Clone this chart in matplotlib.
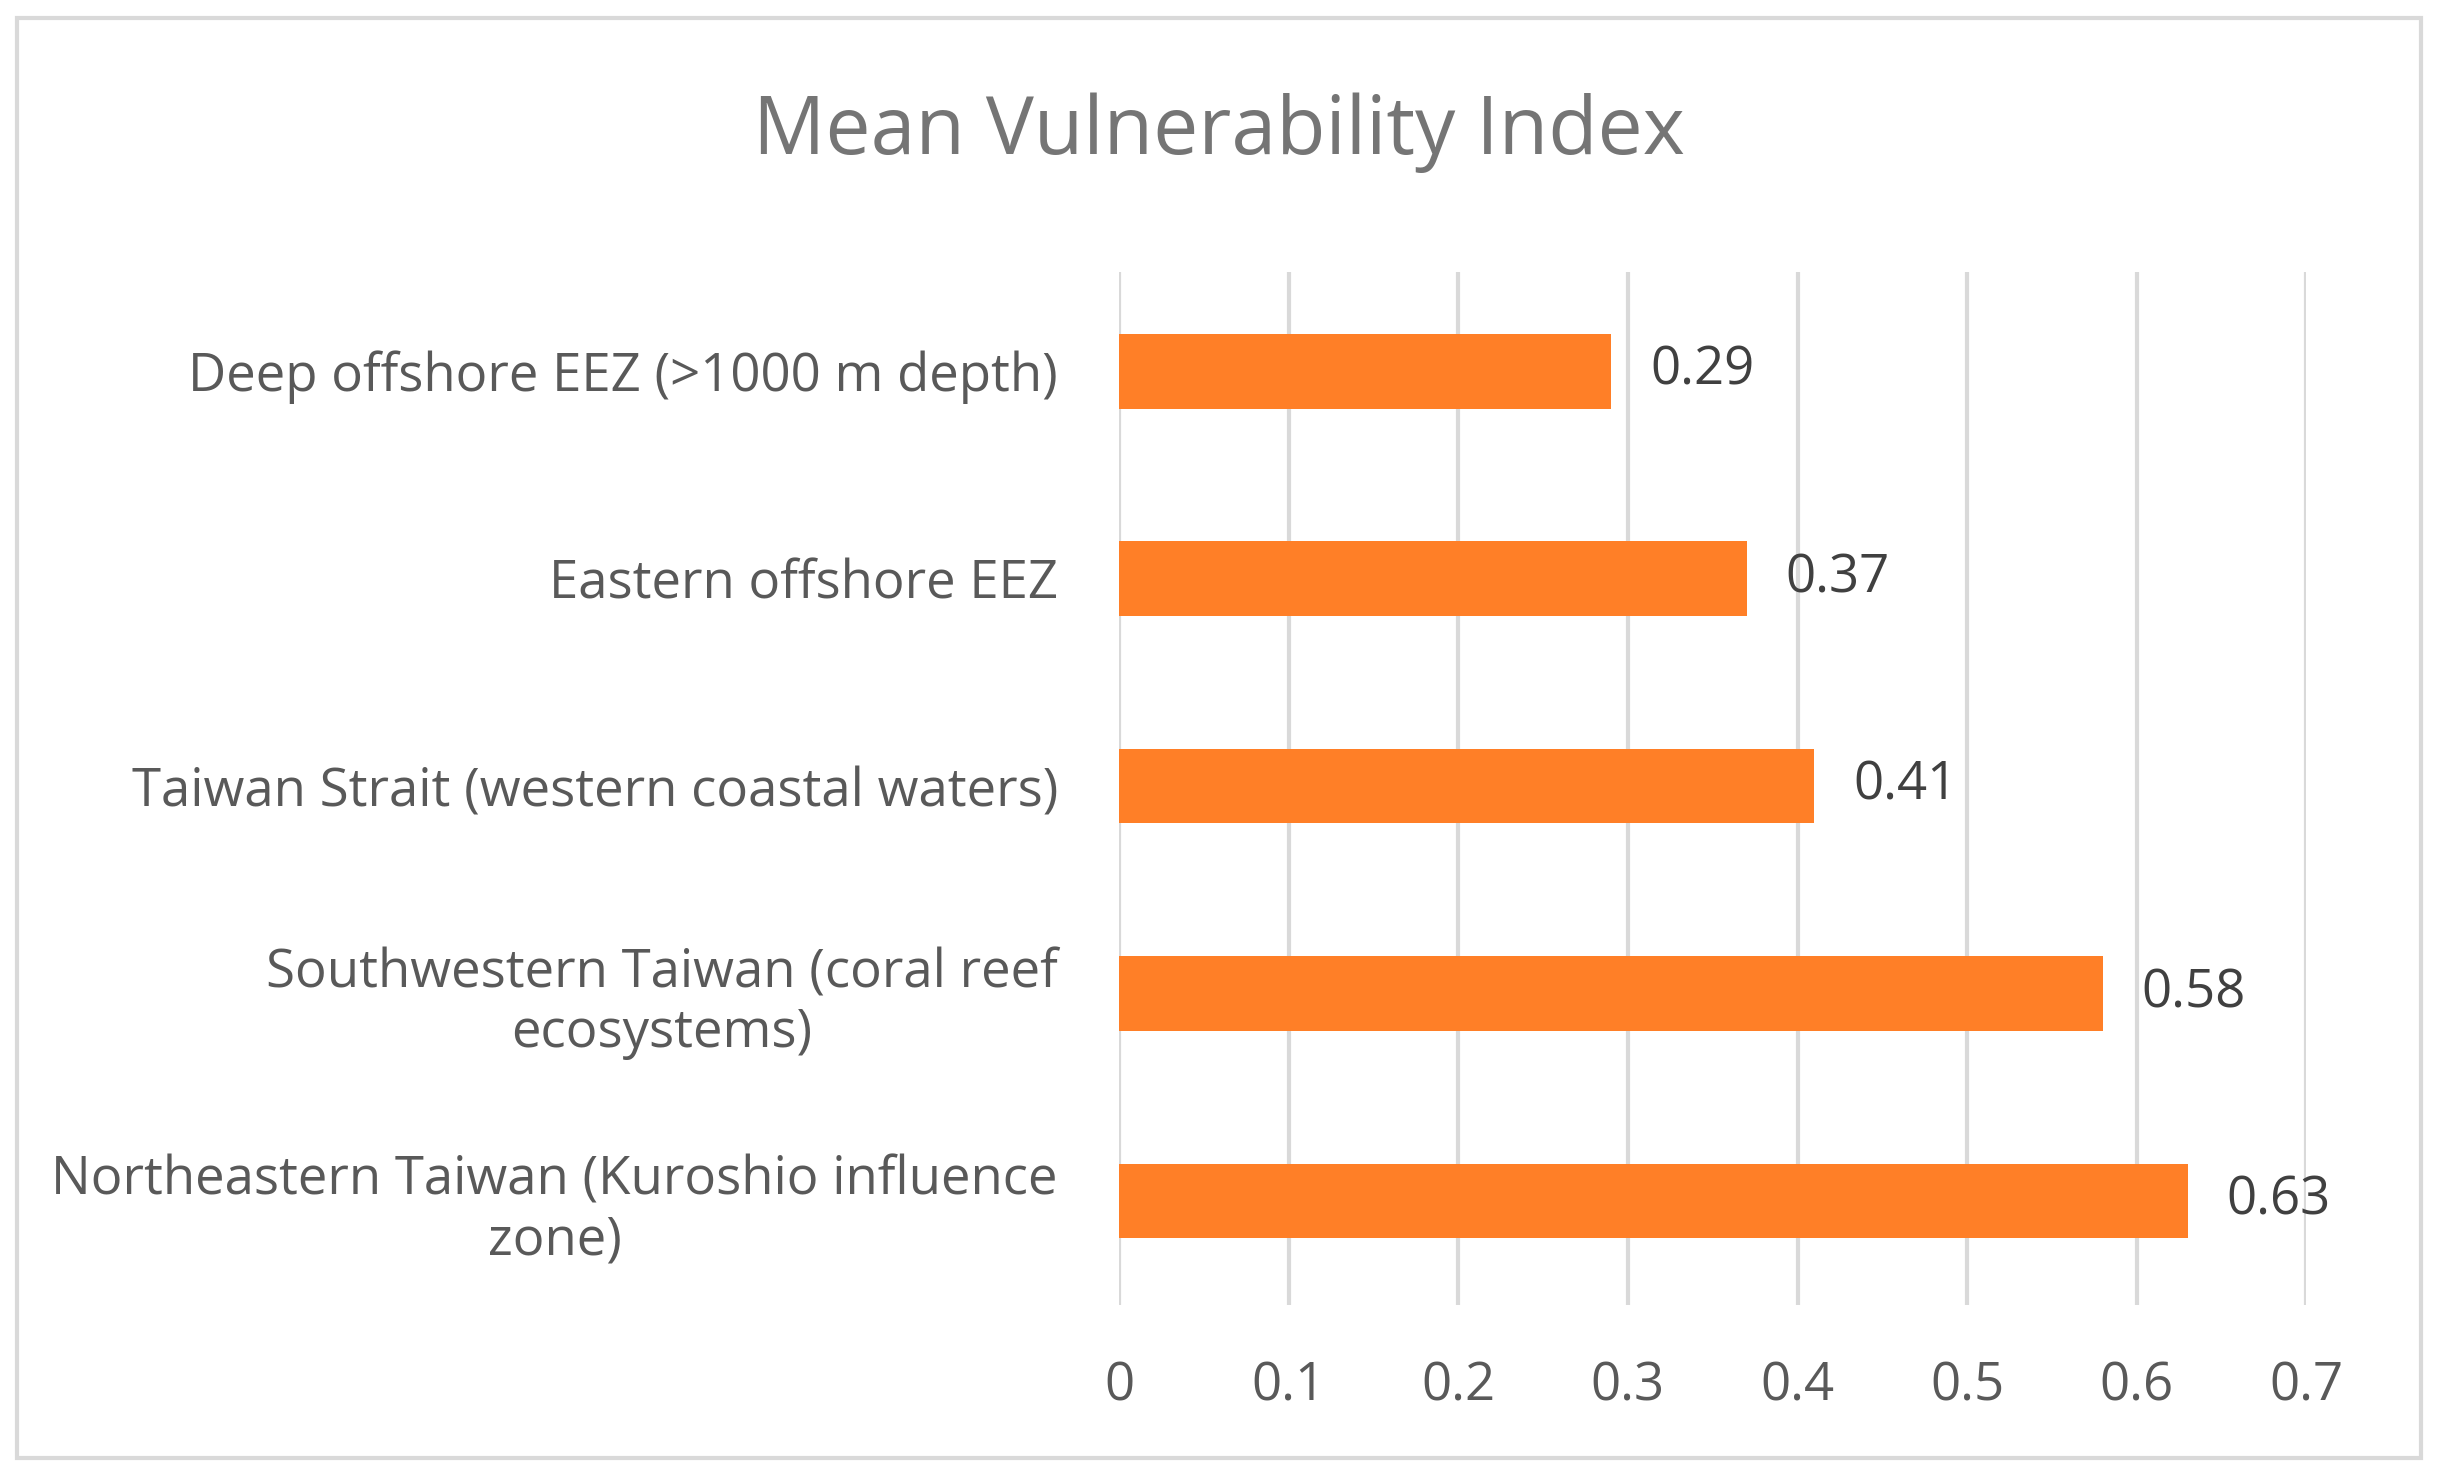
import matplotlib.pyplot as plt
from matplotlib.patches import Rectangle

categories = [
    "Northeastern Taiwan (Kuroshio influence\nzone)",
    "Southwestern Taiwan (coral reef\necosystems)",
    "Taiwan Strait (western coastal waters)",
    "Eastern offshore EEZ",
    "Deep offshore EEZ (>1000 m depth)",
]
values = [0.63, 0.58, 0.41, 0.37, 0.29]
ticks = [0, 0.1, 0.2, 0.3, 0.4, 0.5, 0.6, 0.7]

plt.rcParams["font.family"] = ["Open Sans", "DejaVu Sans"]
fig = plt.figure(figsize=(12.19, 7.38), dpi=200)
ax = fig.add_axes([0.459, 0.116, 0.487, 0.7])

y = range(len(categories))
ax.barh(y, values, height=0.36, color="#FF7F27", zorder=3)
for yi, v in zip(y, values):
    ax.text(v + 0.023, yi, f"{v:.2f}", va="center", ha="left", fontsize=19, color="#404040")

ax.set_xlim(0, 0.7)
ax.set_ylim(-0.5, 4.48)
ax.set_xticks(ticks)
ax.set_xticklabels([f"{t:g}" for t in ticks], fontsize=19, color="#595959")
ax.set_yticks(list(y))
ax.set_yticklabels(categories, fontsize=19, color="#595959", linespacing=1.15,
                   multialignment="center")
ax.tick_params(axis="y", length=0, pad=22)
ax.tick_params(axis="x", length=0, pad=20)
ax.grid(axis="x", color="#D9D9D9", linewidth=1.5, zorder=0)
for s in ax.spines.values():
    s.set_visible(False)

fig.text(0.5, 0.91, "Mean Vulnerability Index", ha="center", va="center", fontsize=29, color="#757575")
fig.patches.append(Rectangle((0.007, 0.012), 0.986, 0.976, transform=fig.transFigure,
                             fill=False, edgecolor="#D9D9D9", linewidth=1.5))

fig.savefig("out.png", dpi=200)
